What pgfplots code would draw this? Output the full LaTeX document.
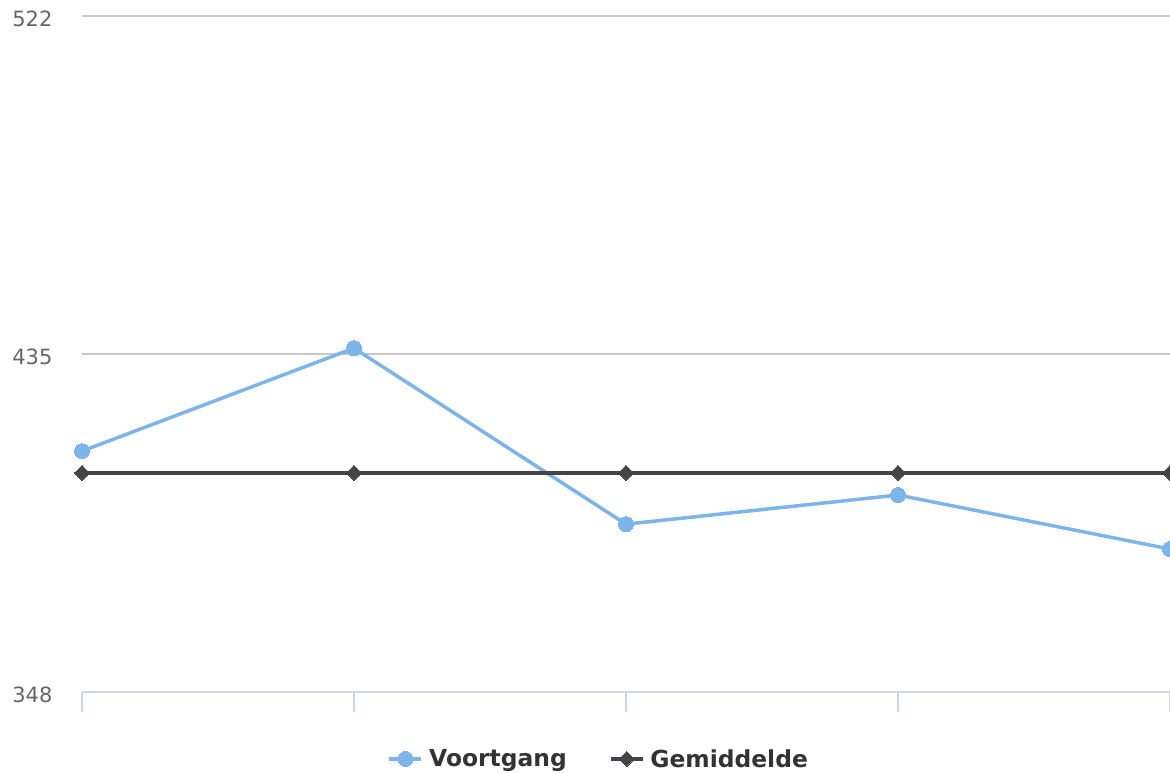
\documentclass[border=0pt]{standalone}
\usepackage{pgfplots}
\pgfplotsset{compat=1.18}
\usepackage{fontspec}
\setmainfont{DejaVu Sans}
\definecolor{vblue}{HTML}{7CB5EC}
\definecolor{gdark}{HTML}{434348}
\definecolor{axisblue}{HTML}{CCD6EB}
\definecolor{gridgray}{HTML}{C8C8C8}
\definecolor{labgray}{HTML}{666666}
\definecolor{legtext}{HTML}{333333}
\begin{document}
\begin{tikzpicture}[x=1pt,y=1pt]
\begin{axis}[
  at={(82pt,81pt)}, anchor=south west,
  scale only axis, width=1088pt, height=676pt,
  xmin=0, xmax=4, ymin=348, ymax=522,
  clip=false,
  /pgf/number format/assume math mode=true,
  axis line style={draw=none},
  xtick={0,1,2,3,4}, xticklabels={},
  xtick pos=bottom,
  tick align=outside, major tick length=20pt,
  x tick style={draw=axisblue, line width=1.3pt},
  ytick={435,522},
  y tick style={draw=none},
  ymajorgrids,
  grid style={draw=gridgray, line width=1.3pt},
  extra y ticks={348},
  extra y tick style={grid style={draw=axisblue, line width=1.5pt}, y tick style={draw=none}},
  yticklabel style={font=\fontsize{21}{25}\selectfont, text=labgray, anchor=east, xshift=-6pt, yshift=-3pt},
  legend columns=2,
  legend style={at={(0.475,-0.099)}, anchor=center, draw=none, fill=none,
    font=\fontsize{23.4}{28}\selectfont\bfseries, text=legtext,
    /tikz/every odd column/.append style={column sep=4pt},
    /tikz/every even column/.append style={column sep=40pt}},
  legend cell align=left,
  legend image code/.code={\draw[mark repeat=2, mark phase=2] plot coordinates {(0pt,0pt) (16pt,0pt) (32pt,0pt)};},
]
\addplot[color=vblue, line width=3.5pt, mark=*, mark size=7.5pt, mark options={draw=vblue, fill=vblue, line width=0pt}]
  coordinates {(0,410.0) (1,436.5) (2,391.2) (3,398.7) (4,384.8)};
\addlegendentry{Voortgang}
\addplot[color=gdark, line width=3.5pt, mark=square*, mark size=5.3pt, mark options={rotate=45, draw=gdark, fill=gdark, line width=0pt}]
  coordinates {(0,404.4) (1,404.4) (2,404.4) (3,404.4) (4,404.4)};
\addlegendentry{Gemiddelde}
\end{axis}
\pgfresetboundingbox
\useasboundingbox (0,0) rectangle (1170,773);
\end{tikzpicture}
\end{document}
